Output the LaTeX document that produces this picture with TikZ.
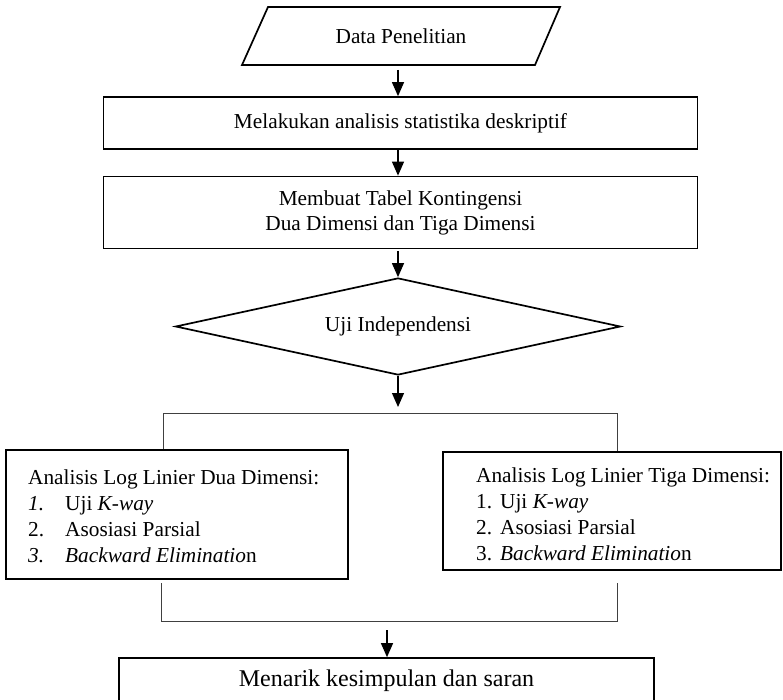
\documentclass[tikz,border=0pt]{standalone}
\usepackage{fontspec}
\setmainfont{Liberation Serif}
\usetikzlibrary{arrows.meta,shapes.geometric}
\begin{document}
\begin{tikzpicture}[x=1pt,y=-1pt,
  box/.style={draw, line width=1.7pt, rectangle, inner sep=0pt},
  flow/.style={line width=1.2pt, -{Triangle[width=12pt,length=14pt]}},
  brk/.style={line width=1pt, draw=black!75},
  txt/.style={font=\fontsize{21.3}{26}\selectfont, inner sep=0pt}]
\useasboundingbox (0,0) rectangle (783,700);

% input parallelogram
\draw[line width=1.7pt] (268,7) -- (560,7) -- (535,65) -- (242,65) -- cycle;
\node[txt] (data) at (401,36) {Data Penelitian};
\coordinate (dataB) at (398,70);

% process boxes
\node[box, txt, minimum width=594pt, minimum height=52pt] (desk) at (400.5,123)
  {Melakukan analisis statistika deskriptif};
\node[box, txt, align=center, font=\fontsize{21.3}{25}\selectfont,
      minimum width=594pt, minimum height=72pt] (tabel) at (400.5,212.5)
  {Membuat Tabel Kontingensi\\Dua Dimensi dan Tiga Dimensi};

% decision
\node[draw, line width=1.7pt, diamond, aspect=4.6, txt,
      minimum width=445pt, minimum height=97pt] (uji) at (398,326.5)
  {Uji Independensi};

% arrows in main column
\draw[flow] (dataB) -- (dataB |- desk.north);
\draw[flow] (desk.south -| dataB) -- (tabel.north -| dataB);
\coordinate (tabB) at (398,251);
\draw[flow] (tabB) -- (tabB |- uji.north);
\coordinate (tip) at (398,407);
\draw[flow] (uji.south) -- (tip);

% two analysis boxes
\node[box, minimum width=342pt, minimum height=129pt] (lbox) at (177,514.5) {};
\node[box, minimum width=338pt, minimum height=118pt] (rbox) at (612,511) {};

\node[txt, anchor=west, align=left] (ltxt) at (28,516)
  {Analisis Log Linier Dua Dimensi:\\
   \makebox[37pt][l]{\textit{1.}}Uji \textit{K-way}\\
   \makebox[37pt][l]{2.}Asosiasi Parsial\\
   \makebox[37pt][l]{\textit{3.}}\textit{Backward Eliminatio}n};
\node[txt, anchor=west, align=left] (rtxt) at (476,514)
  {Analisis Log Linier Tiga Dimensi:\\
   \makebox[24pt][l]{1.}Uji \textit{K-way}\\
   \makebox[24pt][l]{2.}Asosiasi Parsial\\
   \makebox[24pt][l]{3.}\textit{Backward Eliminatio}n};

% top bracket
\coordinate (bl) at (163,413);
\coordinate (br) at (617,413);
\draw[brk] (lbox.north -| bl) -- (bl) -- (br) -- (rbox.north -| br);

% bottom bracket
\coordinate (jlt) at (161,583);
\coordinate (jl) at (161,621);
\coordinate (jr) at (617,621);
\coordinate (jrt) at (617,583);
\draw[brk] (jlt) -- (jl) -- (jr) -- (jrt);

% final box
\node[box, minimum width=535pt, minimum height=84pt] (final) at (386.5,700) {};
\node[txt, font=\fontsize{24}{28}\selectfont] (mtxt) at (386.5,681)
  {Menarik kesimpulan dan saran};
\coordinate (jtip) at (387,630);
\draw[flow] (jtip) -- (jtip |- final.north);
\end{tikzpicture}
\end{document}
